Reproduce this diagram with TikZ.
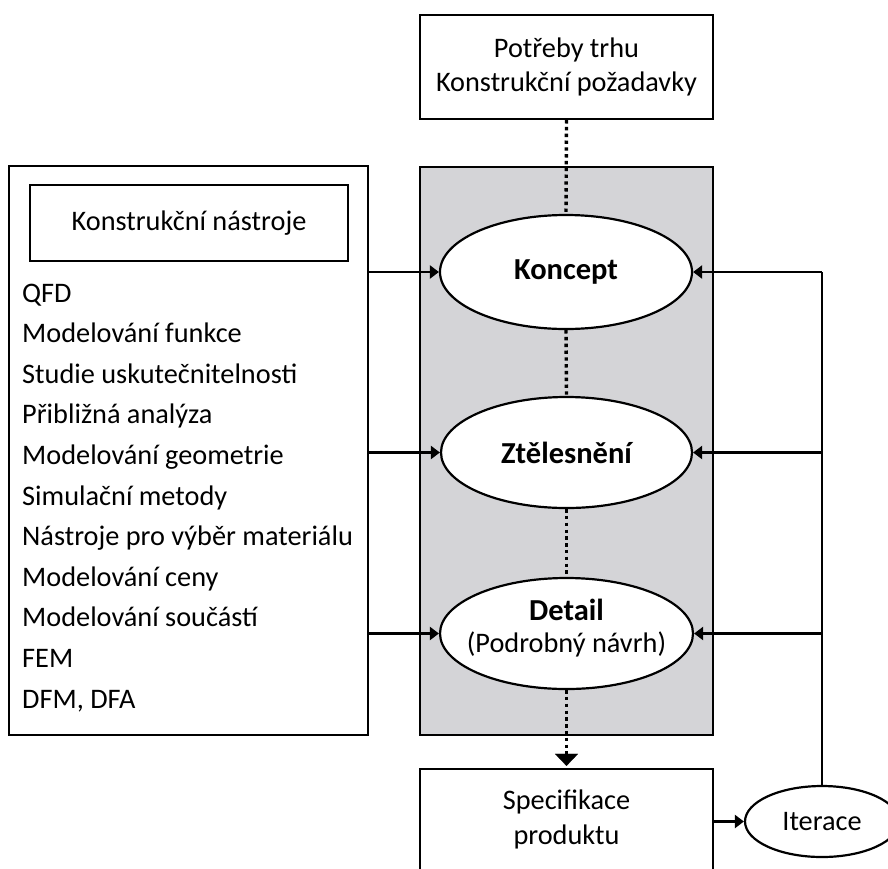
\documentclass[tikz,border=0pt]{standalone}
\usepackage{fontspec}
\setmainfont{Carlito}
\usetikzlibrary{shapes.geometric,arrows.meta}
\definecolor{phasegray}{RGB}{212,212,215}
\tikzset{
  frame/.style={draw=black, line width=2.2pt, inner sep=0pt},
  boxnode/.style={frame, rectangle, align=center},
  stage/.style={frame, ellipse, fill=white, align=center},
  link/.style={line width=2.2pt},
  arr/.style={link, -{Triangle[length=9pt,width=13pt]}},
  dotline/.style={line width=3.4pt, dash pattern=on 3.4pt off 3.4pt},
  listtext/.style={anchor=base west, inner sep=0pt, font=\fontsize{28.3}{32}\selectfont},
  normaltext/.style={font=\fontsize{28.3}{34.5}\selectfont},
  boldtext/.style={font=\fontsize{30.5}{32}\selectfont\bfseries},
}
\begin{document}
\begin{tikzpicture}[x=1pt,y=-1pt]
\useasboundingbox (0,0) rectangle (888,868);

% shaded band holding the three design stages
\node[boxnode, fill=phasegray, minimum width=293, minimum height=568] (phase) at (566.5,451) {};

% inputs and outputs
\node[boxnode, normaltext, minimum width=293, minimum height=104] (needs) at (566.5,67)
  {Potřeby trhu\\Konstrukční požadavky};
\node[boxnode, normaltext, minimum width=293, minimum height=101] (spec) at (566.5,819.5)
  {Specifikace\\produktu};

% design stages
\node[stage, boldtext, minimum width=252, minimum height=114] (koncept) at (566,272) {Koncept};
\node[stage, boldtext, minimum width=251, minimum height=111] (ztel) at (566.5,452.5) {Ztělesnění};
\node[stage, minimum width=253, minimum height=111] (detail) at (566.5,633.5) {};
\node[inner sep=0pt, align=center, font=\fontsize{28.3}{32}\selectfont] (detailtext) at (566.5,628.5)
  {{\fontsize{30.5}{32}\selectfont\bfseries Detail}\\(Podrobný návrh)};

\node[stage, normaltext, minimum width=154, minimum height=71] (iter) at (822,821.5) {Iterace};

% design tools
\node[boxnode, minimum width=359, minimum height=569] (tools) at (188.5,450.5) {};
\node[boxnode, normaltext, minimum width=318, minimum height=76] (toolshead) at (189,223) {Konstrukční nástroje};
\foreach \t [count=\i] in {QFD, Modelování funkce, Studie uskutečnitelnosti, Přibližná analýza,
  Modelování geometrie, Simulační metody, Nástroje pro výběr materiálu, Modelování ceny,
  Modelování součástí, FEM, {DFM, DFA}}
  \node[listtext] (tool\i) at (22,{302+(\i-1)*40.6}) {\t};

% flow between stages
\draw[dotline] (needs.south) -- (koncept.north);
\draw[dotline] (koncept.south) -- (ztel.north);
\draw[dotline] (ztel.south) -- (detail.north);
\coordinate (headbase) at ([yshift=14pt]spec.north);
\draw[dotline] (detail.south) -- (headbase);
\draw[-{Triangle[length=12pt,width=23pt]}, line width=0.1pt] (headbase) -- ([yshift=2pt]spec.north);

% tools feeding each stage
\foreach \s in {koncept, ztel, detail}
  \draw[arr] (tools.east |- \s.west) -- (\s.west);

% iteration loop
\draw[arr] (spec.east |- iter.west) -- (iter.west);
\coordinate (looptop) at (iter.north |- koncept.east);
\draw[link] (iter.north) -- (looptop);
\draw[arr] (looptop) -- (koncept.east);
\foreach \s in {ztel, detail}
  \draw[arr] (iter.north |- \s.east) -- (\s.east);
\end{tikzpicture}
\end{document}
